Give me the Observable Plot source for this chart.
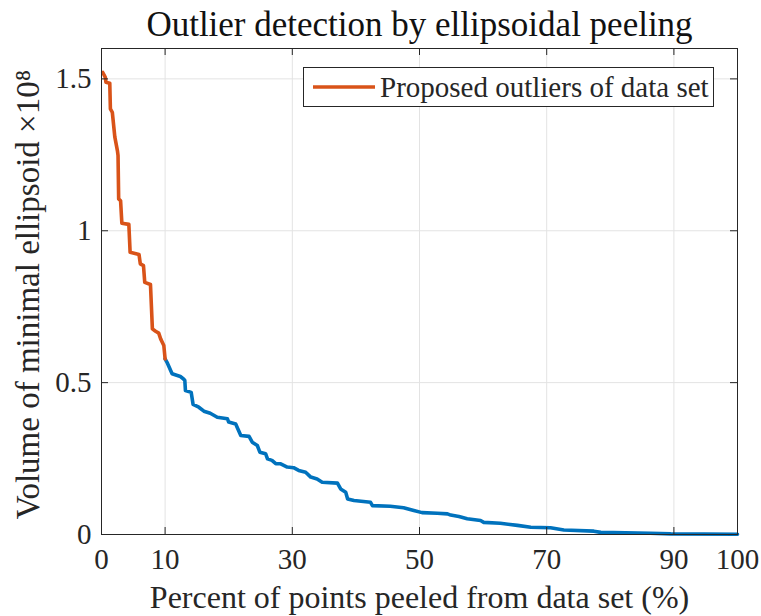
<!DOCTYPE html>
<html>
<head>
<meta charset="utf-8">
<script src="https://cdn.jsdelivr.net/npm/d3@7"></script>
<script src="https://cdn.jsdelivr.net/npm/@observablehq/plot@0.6"></script>
<style>
  body { margin: 0; background: #fff; }
  #fig { position: relative; width: 761px; height: 616px; font-family: "Liberation Serif", serif; color: #262626; }
  #legend {
    position: absolute; left: 303px; top: 67px; width: 409px; height: 38px;
    border: 1px solid #262626; background: #fff; box-sizing: content-box;
    display: flex; align-items: center;
  }
  #legend svg { margin-left: 9px; margin-right: 5px; }
  #legend span { font-size: 29px; line-height: 1; white-space: nowrap; }
</style>
</head>
<body>
<div id="fig"></div>
<script>
// Ellipsoidal peeling: minimal enclosing ellipsoid volume (×10^8) after
// removing a given percentage of points from the data set.

// First ~10% peeled: proposed outliers
const outlierPct = [0.2, 0.6, 0.7, 1.3, 1.4, 1.7, 2.1, 2.5, 2.6, 2.7, 3.0, 3.2, 4.3,
  4.5, 5.9, 6.1, 6.6, 6.8, 7.7, 8.0, 8.5, 9.0, 9.3, 9.8, 10.0];
const outlierVol = [1.521, 1.505, 1.489, 1.486, 1.401, 1.390, 1.308, 1.264, 1.248,
  1.105, 1.099, 1.025, 1.021, 0.929, 0.922, 0.891, 0.885, 0.830, 0.823, 0.677,
  0.669, 0.663, 0.644, 0.622, 0.578];

// Remainder of the peeling sequence
const restPct = [10.0, 10.3, 11.1, 12.4, 12.9, 13.1, 13.2, 14.1, 14.4, 15.3, 16.1,
  17.1, 18.2, 19.8, 20.0, 21.1, 21.9, 23.2, 23.7, 24.5, 24.9, 25.8, 26.1, 26.8,
  27.4, 28.1, 29.2, 30.2, 31.0, 32.1, 32.9, 33.9, 34.7, 37.1, 37.6, 38.4, 38.7,
  39.7, 42.3, 42.6, 45.4, 47.5, 49.1, 50.4, 52.8, 54.4, 54.9, 56.2, 57.5, 59.6,
  60.1, 62.7, 65.4, 67.5, 70.6, 72.7, 77.4, 78.5, 86.3, 89.5, 100];
const restVol = [0.578, 0.567, 0.529, 0.520, 0.512, 0.507, 0.474, 0.468, 0.428,
  0.419, 0.406, 0.399, 0.386, 0.381, 0.370, 0.364, 0.326, 0.323, 0.304, 0.293,
  0.271, 0.266, 0.249, 0.244, 0.233, 0.233, 0.222, 0.220, 0.211, 0.205, 0.189,
  0.183, 0.172, 0.169, 0.150, 0.139, 0.117, 0.112, 0.106, 0.095, 0.093, 0.088,
  0.079, 0.072, 0.070, 0.068, 0.064, 0.059, 0.052, 0.046, 0.040, 0.037, 0.030,
  0.024, 0.022, 0.015, 0.011, 0.007, 0.004, 0.002, 0.001];

const xTicks = [0, 10, 30, 50, 70, 90, 100];
const yTicks = [0, 0.5, 1, 1.5];

const titleText = "Outlier detection by ellipsoidal peeling";
const xLabel = "Percent of points peeled from data set (%)";
const yLabel = "Volume of minimal ellipsoid ×10⁸";
const legendLabel = "Proposed outliers of data set";

const BLUE = "#0072BD", ORANGE = "#D95319", INK = "#262626", GRID = "#e3e3e3";

const outliers = outlierPct.map((p, i) => ({p, v: outlierVol[i]}));
const rest = restPct.map((p, i) => ({p, v: restVol[i]}));

const W = 761, H = 616, mL = 101, mR = 24, mT = 48, mB = 82;
const innerW = W - mL - mR, innerH = H - mT - mB, tickLen = 7;

const chart = Plot.plot({
  width: W, height: H,
  marginLeft: mL, marginRight: mR, marginTop: mT, marginBottom: mB,
  style: {fontFamily: '"Liberation Serif", serif', fontSize: "29px", color: INK, background: "#fff"},
  x: {domain: [0, 100]},
  y: {domain: [0, 1.6]},
  marks: [
    Plot.gridX(xTicks, {stroke: GRID, strokeOpacity: 1}),
    Plot.gridY(yTicks, {stroke: GRID, strokeOpacity: 1}),
    Plot.line(rest, {x: "p", y: "v", stroke: BLUE, strokeWidth: 3.6, strokeLinejoin: "round"}),
    Plot.line(outliers, {x: "p", y: "v", stroke: ORANGE, strokeWidth: 3.6, strokeLinejoin: "round"}),
    // inward tick marks on all four sides
    Plot.tickX(xTicks, {x: d => d, stroke: INK, insetTop: innerH - tickLen}),
    Plot.tickX(xTicks, {x: d => d, stroke: INK, insetBottom: innerH - tickLen}),
    Plot.tickY(yTicks, {y: d => d, stroke: INK, insetRight: innerW - tickLen}),
    Plot.tickY(yTicks, {y: d => d, stroke: INK, insetLeft: innerW - tickLen}),
    Plot.axisX(xTicks, {tickSize: 0, tickPadding: 14, label: null, tickFormat: d => String(d), fontSize: 29}),
    Plot.axisY(yTicks, {tickSize: 0, tickPadding: 10, label: null, tickFormat: d => String(d), fontSize: 29}),
    Plot.frame({stroke: INK}),
    Plot.text([titleText], {text: d => d, frameAnchor: "top", lineAnchor: "middle", textAnchor: "middle", dy: -24, fontSize: 35, fill: "#111"}),
    Plot.text([xLabel], {text: d => d, frameAnchor: "bottom", lineAnchor: "middle", textAnchor: "middle", dy: 63, fontSize: 32, fill: INK}),
    Plot.text([yLabel], {text: d => d, frameAnchor: "left", lineAnchor: "middle", textAnchor: "middle", rotate: -90, dx: -73, dy: 3, fontSize: 33, fill: INK})
  ]
});

const fig = document.getElementById("fig");
fig.appendChild(chart);

// legend box in the upper right of the axes
const legend = document.createElement("div");
legend.id = "legend";
legend.innerHTML = `<svg width="62" height="6"><line x1="0" x2="62" y1="3" y2="3" stroke="${ORANGE}" stroke-width="3.6"/></svg><span>${legendLabel}</span>`;
fig.appendChild(legend);
</script>
</body>
</html>
